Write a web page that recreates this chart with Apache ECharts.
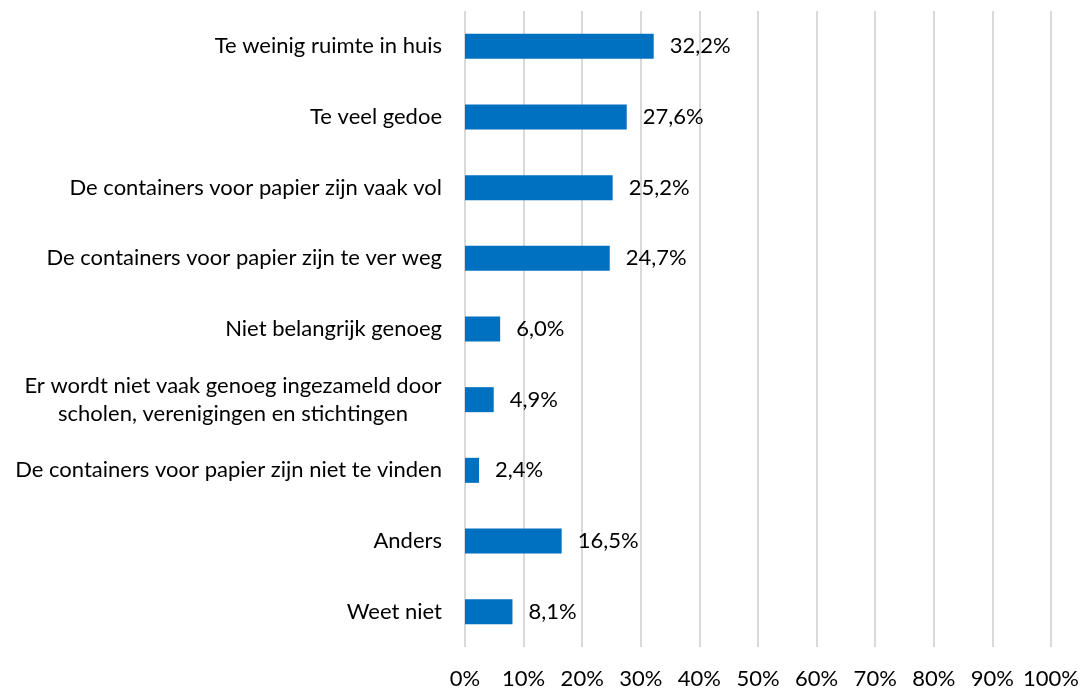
<!DOCTYPE html>
<html>
<head>
<meta charset="utf-8">
<script src="https://cdn.jsdelivr.net/npm/echarts@6/dist/echarts.min.js"></script>
<style>
  html, body { margin: 0; padding: 0; background: #fff; }
  #chart { width: 1088px; height: 690px; }
</style>
</head>
<body>
<div id="chart"></div>
<script>
const categories = [
  "Te weinig ruimte in huis",
  "Te veel gedoe",
  "De containers voor papier zijn vaak vol",
  "De containers voor papier zijn te ver weg",
  "Niet belangrijk genoeg",
  "Er wordt niet vaak genoeg ingezameld door\nscholen, verenigingen en stichtingen",
  "De containers voor papier zijn niet te vinden",
  "Anders",
  "Weet niet"
];
const values = [32.2, 27.6, 25.2, 24.7, 6.0, 4.9, 2.4, 16.5, 8.1];
const tickLabels = ["0%", "10%", "20%", "30%", "40%", "50%", "60%", "70%", "80%", "90%", "100%"];

const font = "Lato, 'Open Sans', sans-serif";
const size = 22;

// width of one text line at the label font
function lineWidth(text) {
  const ctx = document.createElement("canvas").getContext("2d");
  ctx.font = size + "px " + font;
  return Math.ceil(ctx.measureText(text).width);
}

// wrapped labels are centred inside a box as wide as their longest line
const wrapped = categories.filter((c) => c.indexOf("\n") >= 0);
const boxW = Math.max(0, ...wrapped.flatMap((c) => c.split("\n").map(lineWidth)));

const chart = echarts.init(document.getElementById("chart"));

chart.setOption({
  animation: false,
  textStyle: { fontFamily: font },
  grid: { left: 465, right: 37, top: 11, bottom: 43, containLabel: false },
  xAxis: {
    type: "value",
    min: 0,
    max: 100,
    interval: 10,
    axisLine: { show: false },
    axisTick: { show: false },
    splitLine: { show: true, lineStyle: { color: "#d9d9d9", width: 2 } },
    axisLabel: {
      color: "#000",
      fontSize: size,
      fontFamily: font,
      margin: 21,
      formatter: (v) => tickLabels[Math.round(v / 10)]
    }
  },
  yAxis: {
    type: "category",
    inverse: true,
    data: categories,
    axisLine: { show: false },
    axisTick: { show: false },
    axisLabel: {
      color: "#000",
      fontSize: size,
      fontFamily: font,
      margin: 23,
      lineHeight: 28,
      formatter: (v) => v.indexOf("\n") < 0
        ? v
        : v.split("\n").map((s) => "{c|" + s + "}").join("\n"),
      rich: {
        c: { width: boxW, align: "center", fontSize: size, lineHeight: 28, color: "#000", fontFamily: font }
      }
    }
  },
  series: [
    {
      type: "bar",
      data: values,
      barWidth: 25,
      itemStyle: { color: "#0070C0" },
      label: {
        show: true,
        position: "right",
        distance: 16,
        color: "#000",
        fontSize: size,
        fontFamily: font,
        formatter: (p) => p.value.toFixed(1).replace(".", ",") + "%"
      }
    }
  ]
});
</script>
</body>
</html>
